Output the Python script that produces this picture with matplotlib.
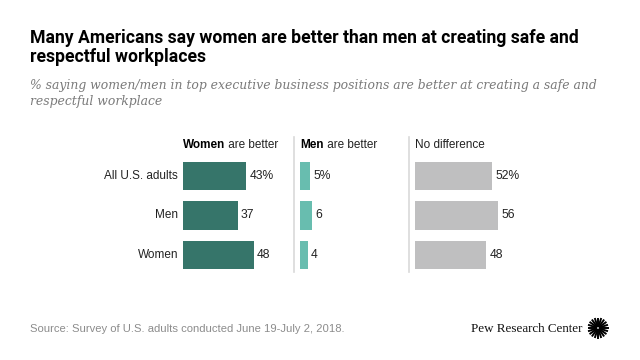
import matplotlib.pyplot as plt
import numpy as np
from matplotlib.lines import Line2D

# Data
groups = ['All U.S. adults', 'Men', 'Women']
women_better = [43, 37, 48]
men_better = [5, 6, 4]
no_difference = [52, 56, 48]
women_labels = ['43%', '37', '48']
men_labels = ['5%', '6', '4']
nodiff_labels = ['52%', '56', '48']

W, H = 640, 360
fig = plt.figure(figsize=(6.4, 3.6), dpi=100)
fig.patch.set_facecolor('white')


def fx(px):
    return px / W


def fy(py):
    return 1 - py / H


def panel(left, width, xmax, values, labels, color, show_groups=False):
    top, bottom = 156.5, 274.5
    ax = fig.add_axes([fx(left), fy(bottom), width / W, (bottom - top) / H])
    y = np.arange(len(values))
    ax.barh(y, values, height=0.72, color=color)
    ax.set_xlim(0, xmax)
    ax.set_ylim(2.5, -0.5)
    for yi, v, lab in zip(y, values, labels):
        ax.text(v + xmax * 0.03, yi, lab, va='center', ha='left',
                fontsize=8.7, color='#222222', family='Liberation Sans')
    ax.set_xticks([])
    ax.set_yticks([])
    for s in ax.spines.values():
        s.set_visible(False)
    ax.patch.set_alpha(0)
    if show_groups:
        for yi, g in zip(y, groups):
            ax.text(-xmax * 0.05, yi, g, va='center', ha='right',
                    fontsize=8.5, color='#222222', family='Liberation Sans')
    return ax


panel(183, 100, 100 / 1.475, women_better, women_labels, '#36756a', True)
panel(300, 100, 50, men_better, men_labels, '#68bdaf')
panel(415, 140, 140 / 1.475, no_difference, nodiff_labels, '#bfbfc0')

# separators
for x in (294.3, 409):
    fig.add_artist(Line2D([fx(x), fx(x)], [fy(137), fy(272)],
                          color='#d9d9d9', lw=1.2))


# panel headers: bold word followed by regular text
def header(x, bold, rest):
    hy = fy(145)
    if bold:
        t = fig.text(fx(x), hy, bold, fontsize=8.5, fontweight='bold',
                     va='center', family='Liberation Sans')
        fig.add_artist(plt.Annotation(' ' + rest, xy=(1, 0.5), xycoords=t,
                                      va='center', ha='left', fontsize=8.5,
                                      family='Liberation Sans',
                                      color='#222222'))
    else:
        fig.text(fx(x), hy, rest, fontsize=8.5, va='center',
                 family='Liberation Sans', color='#222222')


header(183, 'Women', 'are better')
header(300, 'Men', 'are better')
header(415, None, 'No difference')

# title and subtitle
title_lines = ['Many Americans say women are better than men at creating safe and',
               'respectful workplaces']
for yb, line in zip((43, 62), title_lines):
    fig.text(fx(30), fy(yb), line, fontsize=12.7, fontweight='bold',
             va='baseline', ha='left', family='Roboto')
sub_lines = ['% saying women/men in top executive business positions are better at creating a safe and',
             'respectful workplace']
for yb, line in zip((89, 105), sub_lines):
    fig.text(fx(30), fy(yb), line, fontsize=8.9, style='italic',
             color='#7a7a7a', va='baseline', ha='left', family='DejaVu Serif')

# footer
fig.text(fx(30), fy(329), 'Source: Survey of U.S. adults conducted June 19-July 2, 2018.',
         fontsize=8.1, color='#8c8c8c', va='center', family='Liberation Sans')
fig.text(fx(582), fy(329), 'Pew Research Center', fontsize=9.4,
         va='center', ha='right', family='Liberation Serif', color='#111111')

# logo burst
cx, cy, r = 598, 328, 9.5
for a in np.linspace(0, 2 * np.pi, 20, endpoint=False):
    fig.add_artist(Line2D([fx(cx + 2 * np.cos(a)), fx(cx + r * np.cos(a))],
                          [fy(cy + 2 * np.sin(a)), fy(cy + r * np.sin(a))],
                          color='black', lw=1.4))

fig.savefig('out.png', dpi=100)
